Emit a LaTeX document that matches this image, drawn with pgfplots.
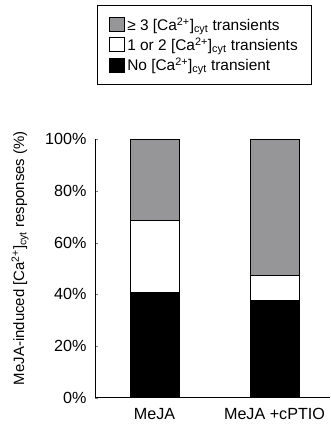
\documentclass[border=0pt]{standalone}
\usepackage{pgfplots}
\pgfplotsset{compat=1.18}
\usepackage{fontspec}
\setmainfont{Liberation Sans}
\definecolor{bargray}{RGB}{150,150,152}
\begin{document}
\begin{tikzpicture}
\begin{axis}[
  at={(0,0)}, anchor=south west,
  scale only axis, width=235bp, height=258.4bp,
  xmin=0.504, xmax=2.4625, ymin=0, ymax=100,
  axis x line*=bottom, axis y line*=left,
  axis line style={line width=1pt},
  ybar stacked, bar width=49bp,
  xtick={1,2}, xticklabels={MeJA, MeJA +cPTIO},
  ytick={0,20,...,100}, yticklabel={\pgfmathprintnumber{\tick}\%},
  tick align=inside, major tick length=3bp,
  x tick style={draw=none},
  /pgf/number format/assume math mode=true,
  tick label style={font=\fontsize{16.2}{19}\selectfont},
  xticklabel style={yshift=-7bp},
  yticklabel style={xshift=-5bp},
  ylabel={MeJA-induced [Ca\textsuperscript{2+}]\textsubscript{cyt} responses (\%)},
  ylabel style={font=\fontsize{15}{18}\selectfont, at={(axis description cs:-0.319,0.54)}, anchor=center},
  legend style={at={(axis description cs:0.0085,1.5197)}, anchor=north west,
    draw=black, line width=1pt, font=\fontsize{15.5}{18}\selectfont,
    row sep=2bp, cells={anchor=west}, inner xsep=12bp, inner ysep=10bp},
  reverse legend,
  legend image code/.code={\draw[#1, draw=black, line width=0.8pt] (0bp,-7bp) rectangle (15bp,7bp);},
]
\addplot[fill=black, draw=black, line width=0.8pt] coordinates {(1,40.6) (2,37.5)};
\addlegendentry{No [Ca\textsuperscript{2+}]\textsubscript{cyt} transient}
\addplot[fill=white, draw=black, line width=0.8pt] coordinates {(1,28.1) (2,9.7)};
\addlegendentry{1 or 2 [Ca\textsuperscript{2+}]\textsubscript{cyt} transients}
\addplot[fill=bargray, draw=black, line width=0.8pt] coordinates {(1,31.3) (2,52.8)};
\addlegendentry{≥ 3 [Ca\textsuperscript{2+}]\textsubscript{cyt} transients}
\end{axis}
\path[use as bounding box] (-95bp,-34.3bp) rectangle (235bp,397.7bp);
\end{tikzpicture}
\end{document}
